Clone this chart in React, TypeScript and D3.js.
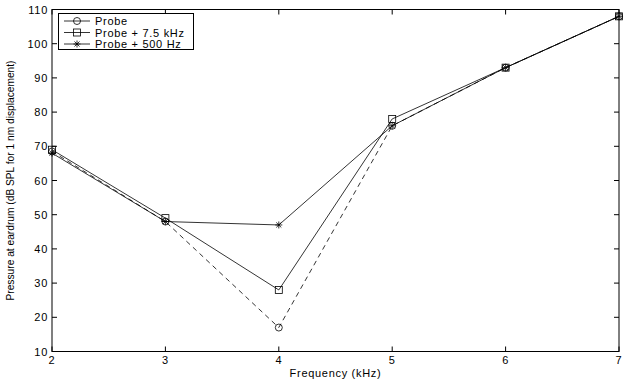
import React from 'react';
import * as d3 from 'd3';

const freqs = [2, 3, 4, 5, 6, 7];
const probe = [68.5, 48, 17, 76, 93, 108];
const probe75k = [69, 49, 28, 78, 93, 108];
const probe500 = [68, 48, 47, 76, 93, 108];
const xTicks = [2, 3, 4, 5, 6, 7];
const yTicks = [10, 20, 30, 40, 50, 60, 70, 80, 90, 100, 110];
const seriesNames = ['Probe', 'Probe + 7.5 kHz', 'Probe + 500 Hz'];

const font = '"Liberation Sans", Arial, sans-serif';

function Marker({ kind, x, y }: { kind: string; x: number; y: number }) {
  if (kind === 'circle') {
    return <circle cx={x} cy={y} r={3.5} fill="none" stroke="#000" strokeWidth={0.8} />;
  }
  if (kind === 'square') {
    return <rect x={x - 3.5} y={y - 3.5} width={7} height={7} fill="none" stroke="#000" strokeWidth={0.8} />;
  }
  const s = 3.5;
  const k = s * 0.72;
  return (
    <path
      d={`M${x - s},${y}H${x + s}M${x},${y - s}V${y + s}M${x - k},${y - k}L${x + k},${y + k}M${x - k},${y + k}L${x + k},${y - k}`}
      stroke="#000"
      strokeWidth={0.8}
    />
  );
}

function App() {
  const width = 632;
  const height = 383;
  const left = 52;
  const right = 619;
  const top = 9.5;
  const bottom = 351.5;

  const x = d3.scaleLinear().domain([2, 7]).range([left, right]);
  const y = d3.scaleLinear().domain([10, 110]).range([bottom, top]);

  const line = d3
    .line<number>()
    .x((_, i) => x(freqs[i]))
    .y((d) => y(d));

  const series = [
    { name: seriesNames[0], values: probe, marker: 'circle', dash: '5,4' },
    { name: seriesNames[1], values: probe75k, marker: 'square', dash: undefined },
    { name: seriesNames[2], values: probe500, marker: 'star', dash: undefined },
  ];

  const tick = 5;

  return (
    <svg
      width={width}
      height={height}
      style={{ position: 'absolute', left: 0, top: 0, background: '#fff' }}
      fontFamily={font}
    >
      <rect width={width} height={height} fill="#fff" />

      {series.map((s) => (
        <g key={s.name}>
          <path d={line(s.values) ?? ''} fill="none" stroke="#000" strokeWidth={0.8} strokeDasharray={s.dash} />
          {s.values.map((v, i) => (
            <Marker key={i} kind={s.marker} x={x(freqs[i])} y={y(v)} />
          ))}
        </g>
      ))}

      <g className="axes" stroke="#000" strokeWidth={1}>
        <rect x={left} y={top} width={right - left} height={bottom - top} fill="none" />
        {xTicks.map((t) => (
          <g key={t}>
            <line x1={x(t)} x2={x(t)} y1={bottom} y2={bottom - tick} />
            <line x1={x(t)} x2={x(t)} y1={top} y2={top + tick} />
          </g>
        ))}
        {yTicks.map((t) => (
          <g key={t}>
            <line x1={left} x2={left + tick} y1={y(t)} y2={y(t)} />
            <line x1={right} x2={right - tick} y1={y(t)} y2={y(t)} />
          </g>
        ))}
      </g>

      <g fontSize={11} fill="#000" letterSpacing={0.7}>
        {xTicks.map((t) => (
          <text key={t} x={x(t)} y={bottom + 12} textAnchor="middle">
            {t}
          </text>
        ))}
        {yTicks.map((t) => (
          <text key={t} x={left - 4} y={y(t) + 4} textAnchor="end">
            {t}
          </text>
        ))}
        <text x={(left + right) / 2} y={377} textAnchor="middle">
          Frequency (kHz)
        </text>
      </g>
      <text
        transform={`translate(14,${(top + bottom) / 2}) rotate(-90)`}
        textAnchor="middle"
        fontSize={11}
        textLength={240}
        lengthAdjust="spacingAndGlyphs"
      >
        Pressure at eardrum (dB SPL for 1 nm displacement)
      </text>

      <g className="legend">
        <rect x={58.5} y={13.5} width={135} height={36} fill="#fff" stroke="#000" strokeWidth={1} />
        {series.map((s, i) => {
          const ly = 21 + i * 11.5;
          return (
            <g key={s.name}>
              <line x1={64} x2={90} y1={ly} y2={ly} stroke="#000" strokeWidth={0.8} />
              <Marker kind={s.marker} x={77} y={ly} />
              <text x={95} y={ly + 4} fontSize={11} letterSpacing={0.7}>
                {s.name}
              </text>
            </g>
          );
        })}
      </g>
    </svg>
  );
}

export default App;
